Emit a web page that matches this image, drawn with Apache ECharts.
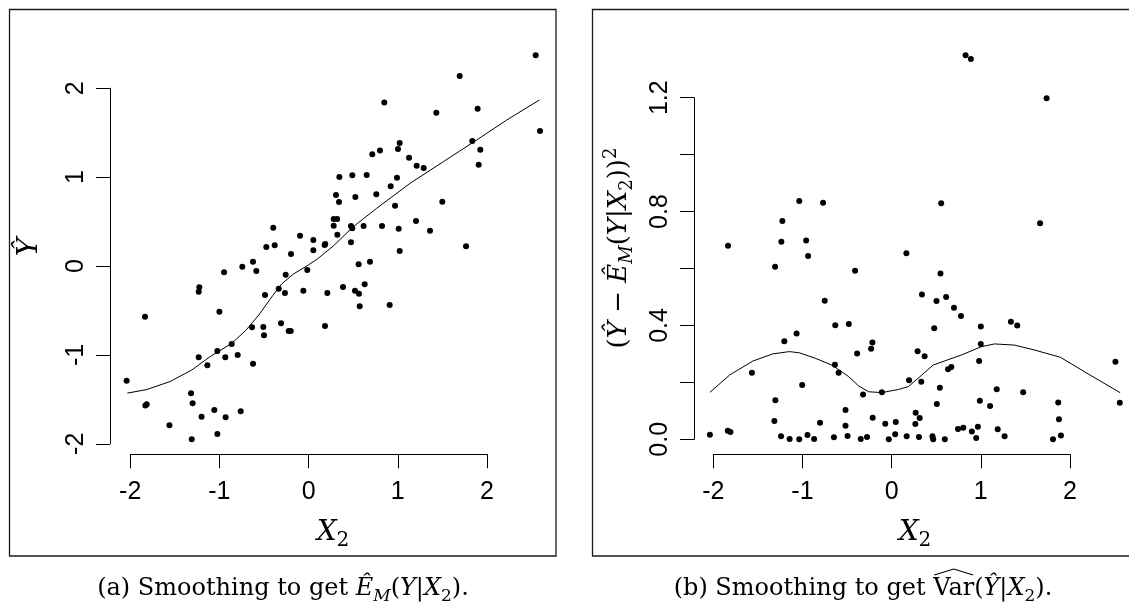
<!DOCTYPE html>
<html>
<head>
<meta charset="utf-8">
<script src="https://cdn.jsdelivr.net/npm/echarts@6/dist/echarts.min.js"></script>
<style>
  html, body { margin: 0; padding: 0; background: #fff; }
  #chart { width: 1129px; height: 603px; }
</style>
</head>
<body>
<div id="chart"></div>
<script>
// Panel (a): fitted values Y-hat against X2
const panelAX = [-2.04, -1.834, -1.83, -1.815, -1.56, -1.31, -1.318, -1.30, -1.20, -1.232, -1.225, -1.232,
  -1.135, -1.057, -1.023, -1.023, -1.0, -0.948, -0.934, -0.93, -0.862, -0.795, -0.761, -0.743, -0.623,
  -0.634, -0.623, -0.586, -0.508, -0.5, -0.489, -0.474, -0.396, -0.38, -0.335, -0.309, -0.265, -0.257,
  -0.223, -0.20, -0.197, -0.096, -0.059, -0.015, 0.053, 0.053, 0.18, 0.187, 0.184, 0.21, 0.281, 0.281,
  0.32, 0.322, 0.307, 0.341, 0.345, 0.386, 0.475, 0.49, 0.475, 0.49, 0.524, 0.52, 0.565, 0.561, 0.573,
  0.617, 0.629, 0.651, 0.688, 0.714, 0.759, 0.80, 0.823, 0.849, 0.909, 0.92, 0.969, 0.991, 1.002, 1.021,
  1.01, 1.021, 1.126, 1.204, 1.212, 1.29, 1.361, 1.432, 1.499, 1.694, 1.765, 1.835, 1.895, 1.925, 1.907,
  2.546, 2.594];
const panelAY = [-1.29, -0.57, -1.57, -1.556, -1.79, -1.95, -1.43, -1.545, -1.695, -1.027, -0.24, -0.29,
  -1.117, -1.62, -1.89, -0.956, -0.514, -0.07, -1.027, -1.70, -0.877, -1.0, -1.635, -0.008, -1.099,
  -0.69, 0.048, -0.056, -0.686, -0.78, -0.326, 0.214, 0.431, 0.233, -0.255, -0.645, -0.304, -0.098,
  -0.73, -0.73, 0.135, 0.341, -0.278, -0.045, 0.292, 0.176, 0.236, 0.247, -0.675, -0.304, 0.453, 0.528,
  0.528, 0.352, 0.80, 0.72, 1.0, -0.236, 0.45, 0.424, 0.266, 1.02, 0.776, -0.278, -0.311, 0.019, -0.453,
  0.45, -0.206, 1.024, 0.049, 1.256, 0.806, 1.30, 0.45, 1.84, -0.439, 0.896, 0.679, 0.994, 1.316, 1.384,
  0.42, 0.169, 1.218, 0.506, 1.128, 1.102, 0.397, 1.724, 0.723, 2.137, 0.221, 1.406, 1.77, 1.308, 1.14,
  2.37, 1.518];
// Smoothed mean E_M(Y|X2)
const smoothAX = [-2.033, -1.815, -1.554, -1.31, -1.105, -0.862, -0.70, -0.55, -0.40, -0.30, -0.17,
  -0.02, 0.10, 0.277, 0.501, 0.763, 1.137, 1.51, 1.884, 2.221, 2.587];
const smoothAY = [-1.43, -1.39, -1.30, -1.17, -1.02, -0.87, -0.72, -0.54, -0.33, -0.20, -0.09,
  0.0, 0.08, 0.225, 0.442, 0.649, 0.93, 1.173, 1.417, 1.642, 1.867];

// Panel (b): squared deviations from the smoothed mean
const panelBX = [-2.037, -1.835, -1.805, -1.832, -1.562, -1.30, -1.297, -1.308, -1.229, -1.218, -1.233,
  -1.196, -1.136, -1.057, -1.027, -1.027, -0.994, -0.949, -0.927, -0.934, -0.859, -0.792, -0.758, -0.739,
  -0.635, -0.624, -0.62, -0.582, -0.504, -0.504, -0.481, -0.467, -0.396, -0.373, -0.332, -0.261, -0.306,
  -0.215, -0.200, -0.197, -0.093, -0.055, -0.015, 0.057, 0.064, 0.187, 0.184, 0.214, 0.853, 0.913, 1.769,
  0.577, 1.695, 0.569, 0.36, 0.524, 0.633, 0.722, 0.801, 0.498, 1.025, 1.365, 1.437, 1.025, 0.311, 0.39,
  1.006, 0.655, 0.692, 2.547, 0.352, 0.562, 1.205, 1.504, 0.528, 1.014, 1.13, 1.90, 2.596, 0.289, 0.334,
  0.285, 1.908, 0.326, 0.479, 0.487, 0.618, 0.767, 0.827, 0.924, 0.992, 0.973, 1.216, 1.294, 1.841, 1.931];
const panelBY = [0.016, 0.030, 0.026, 0.68, 0.234, 0.606, 0.137, 0.064, 0.694, 0.767, 0.011, 0.344, 0.001,
  0.372, 0.837, 0.0, 0.191, 0.698, 0.644, 0.015, 0.001, 0.058, 0.831, 0.487, 0.007, 0.262, 0.401, 0.234,
  0.103, 0.048, 0.012, 0.405, 0.592, 0.301, 0.001, 0.008, 0.157, 0.318, 0.340, 0.076, 0.165, 0.055, 0.0,
  0.018, 0.061, 0.011, 0.654, 0.207, 1.349, 1.336, 1.198, 0.829, 0.759, 0.582, 0.509, 0.486, 0.5, 0.462,
  0.433, 0.39, 0.396, 0.413, 0.40, 0.335, 0.309, 0.292, 0.275, 0.246, 0.254, 0.272, 0.202, 0.181, 0.176,
  0.165, 0.124, 0.135, 0.117, 0.129, 0.128, 0.093, 0.075, 0.054, 0.07, 0.008, 0.011, 0.0, 0.0, 0.036,
  0.041, 0.027, 0.044, 0.005, 0.035, 0.011, 0.0, 0.013];
// Smoothed variance Var(Y-hat|X2)
const smoothBX = [-2.037, -1.813, -1.551, -1.327, -1.14, -1.027, -0.84, -0.654, -0.467, -0.354, -0.242,
  -0.093, 0.094, 0.206, 0.337, 0.487, 0.804, 1.029, 1.179, 1.403, 1.628, 1.926, 2.225, 2.599];
const smoothBY = [0.165, 0.226, 0.275, 0.30, 0.308, 0.304, 0.284, 0.26, 0.22, 0.187, 0.167,
  0.164, 0.175, 0.185, 0.22, 0.261, 0.296, 0.325, 0.335, 0.331, 0.314, 0.288, 0.232, 0.164];

// Axis tick settings (ticks drawn between min and max only, R style)
const xTicks = { min: -2, max: 2, step: 1 };
const yTicksA = { min: -2, max: 2, step: 1 };
const yTicksB = { min: 0, max: 1.2, step: 0.2, labelEvery: 2 };
// Plotting ranges of the two panels
const rangeA = { x: [-2.2, 2.7], y: [-2.1, 2.5] };
const rangeB = { x: [-2.2, 2.7], y: [-0.06, 1.45] };

const SANS = "'Liberation Sans', Arial, Helvetica, sans-serif";
const SERIF = "'DejaVu Serif', 'Liberation Serif', serif";
const INK = '#000';

// Pixel frame of each panel's tick span: [left, right] for x ticks, [bottom, top] for y ticks
const frameA = { xl: 130.2, xr: 487.0, yb: 443.8, yt: 88.2, xOff: 10.5, yOff: 20.2 };
const frameB = { xl: 713.3, xr: 1069.9, yb: 439.3, yt: 97.7, xOff: 15, yOff: 19.3 };

// grid that spans the tick range
function tickGrid(f) {
  return { left: f.xl, top: f.yt, width: f.xr - f.xl, height: f.yb - f.yt };
}
// grid that spans the plotting range, on the same scale as the tick grid
function dataGrid(f, xt, yt, range) {
  const sx = (f.xr - f.xl) / (xt.max - xt.min);
  const sy = (f.yb - f.yt) / (yt.max - yt.min);
  const left = f.xl + (range.x[0] - xt.min) * sx;
  const right = f.xl + (range.x[1] - xt.min) * sx;
  const top = f.yt - (range.y[1] - yt.max) * sy;
  const bottom = f.yb + (yt.min - range.y[0]) * sy;
  return { left: left, top: top, width: right - left, height: bottom - top };
}

function rAxisX(grid, offset) {
  return {
    type: 'value', gridIndex: grid, position: 'bottom',
    min: xTicks.min, max: xTicks.max, interval: xTicks.step, offset: offset,
    axisLine: { show: true, onZero: false, lineStyle: { color: INK, width: 1 } },
    axisTick: { show: true, length: 14, lineStyle: { color: INK, width: 1 } },
    axisLabel: { color: INK, fontFamily: SANS, fontSize: 25, margin: 25, showMinLabel: true, showMaxLabel: true },
    splitLine: { show: false }
  };
}
function rAxisY(grid, ticks, offset, fmt) {
  return {
    type: 'value', gridIndex: grid, position: 'left',
    min: ticks.min, max: ticks.max, interval: ticks.step, offset: offset,
    axisLine: { show: true, onZero: false, lineStyle: { color: INK, width: 1 } },
    axisTick: { show: true, length: 14, lineStyle: { color: INK, width: 1 } },
    axisLabel: { color: INK, fontFamily: SANS, fontSize: 25, margin: 21, rotate: 90,
      showMinLabel: true, showMaxLabel: true, formatter: fmt },
    splitLine: { show: false }
  };
}
function hiddenAxis(grid, range) {
  return { type: 'value', gridIndex: grid, min: range[0], max: range[1], show: false, splitLine: { show: false } };
}

function mathStyles(size) {
  const sub = Math.round(size * 0.7);
  return {
    i: { fontFamily: SERIF, fontStyle: 'italic', fontSize: size, lineHeight: size * 1.3, fill: INK },
    s: { fontFamily: SERIF, fontSize: sub, lineHeight: sub, verticalAlign: 'bottom', fill: INK },
    si: { fontFamily: SERIF, fontStyle: 'italic', fontSize: sub, lineHeight: sub, verticalAlign: 'bottom', fill: INK },
    p: { fontFamily: SERIF, fontSize: sub, lineHeight: sub, verticalAlign: 'top', fill: INK }
  };
}
function mathText(x, y, text, size, rotation) {
  return {
    type: 'text', x: x, y: y, rotation: rotation || 0, silent: true,
    style: {
      text: text, rich: mathStyles(size), fontFamily: SERIF, fontSize: size,
      lineHeight: size * 1.3, fill: INK, align: 'center', verticalAlign: 'middle'
    }
  };
}

// Width of a caption piece, to place the wide hat over "Var"
const measureCtx = document.createElement('canvas').getContext('2d');
function textWidth(text, size, italic) {
  measureCtx.font = (italic ? 'italic ' : '') + size + 'px ' + SERIF;
  return measureCtx.measureText(text).width;
}
const capSize = 24, capSub = Math.round(capSize * 0.7);
const capBx = 863, capBy = 589;
const capBLead = '(b) Smoothing to get ';
const capBWidth = textWidth(capBLead, capSize) + textWidth('Var(', capSize) + textWidth('Ŷ', capSize, true) +
  textWidth('|', capSize) + textWidth('X', capSize, true) + textWidth('2', capSub) + textWidth(').', capSize);
const hatL = capBx - capBWidth / 2 + textWidth(capBLead, capSize) + 1;
const hatR = hatL + textWidth('Var', capSize) - 2;

const chart = echarts.init(document.getElementById('chart'), null, { renderer: 'canvas' });
chart.setOption({
  animation: false,
  backgroundColor: '#fff',
  grid: [
    tickGrid(frameA),
    tickGrid(frameB),
    dataGrid(frameA, xTicks, yTicksA, rangeA),
    dataGrid(frameB, xTicks, yTicksB, rangeB)
  ],
  xAxis: [rAxisX(0, frameA.xOff), rAxisX(1, frameB.xOff), hiddenAxis(2, rangeA.x), hiddenAxis(3, rangeB.x)],
  yAxis: [
    rAxisY(0, yTicksA, frameA.yOff, v => String(v)),
    rAxisY(1, yTicksB, frameB.yOff, v => {
      const k = Math.round(v / yTicksB.step);
      return k % yTicksB.labelEvery === 0 ? v.toFixed(1) : '';
    }),
    hiddenAxis(2, rangeA.y),
    hiddenAxis(3, rangeB.y)
  ],
  series: [
    { type: 'scatter', xAxisIndex: 2, yAxisIndex: 2, data: pairs(panelAX, panelAY),
      symbol: 'circle', symbolSize: 6, itemStyle: { color: INK, opacity: 1 }, silent: true },
    { type: 'line', xAxisIndex: 2, yAxisIndex: 2, data: pairs(smoothAX, smoothAY),
      showSymbol: false, lineStyle: { color: INK, width: 1 }, silent: true },
    { type: 'scatter', xAxisIndex: 3, yAxisIndex: 3, data: pairs(panelBX, panelBY),
      symbol: 'circle', symbolSize: 6, itemStyle: { color: INK, opacity: 1 }, silent: true },
    { type: 'line', xAxisIndex: 3, yAxisIndex: 3, data: pairs(smoothBX, smoothBY),
      showSymbol: false, lineStyle: { color: INK, width: 1 }, silent: true }
  ],
  graphic: [
    { type: 'rect', silent: true, shape: { x: 9.5, y: 9.5, width: 546.5, height: 546.5 },
      style: { fill: 'none', stroke: '#1a1a1a', lineWidth: 1.3 } },
    { type: 'rect', silent: true, shape: { x: 592.5, y: 9.5, width: 546, height: 546.5 },
      style: { fill: 'none', stroke: '#1a1a1a', lineWidth: 1.3 } },
    mathText(30, 247, '{i|Ŷ}', 28, Math.PI / 2),
    mathText(333, 533, '{i|X}{s|2}', 28),
    mathText(619, 248, '({i|Ŷ} − {i|Ê}{si|M}({i|Y}|{i|X}{s|2})){p|2}', 26, Math.PI / 2),
    mathText(915, 533, '{i|X}{s|2}', 28),
    mathText(283, 589, '(a) Smoothing to get {i|Ê}{si|M}({i|Y}|{i|X}{s|2}).', capSize),
    mathText(capBx, capBy, '(b) Smoothing to get Var({i|Ŷ}|{i|X}{s|2}).', capSize),
    { type: 'polyline', silent: true,
      shape: { points: [[hatL, 575], [(hatL + hatR) / 2, 569], [hatR, 575]] },
      style: { fill: 'none', stroke: INK, lineWidth: 1.1 } }
  ]
});

function pairs(xs, ys) { return xs.map((x, i) => [x, ys[i]]); }
</script>
</body>
</html>
